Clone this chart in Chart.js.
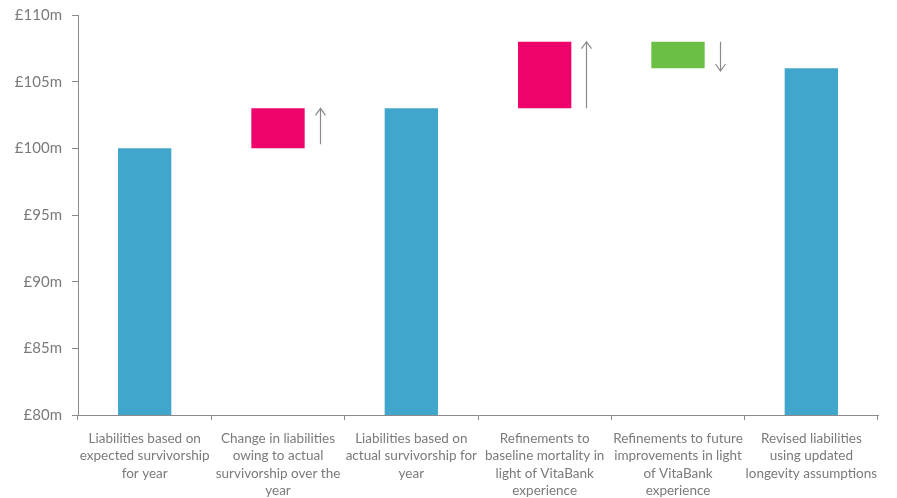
<!DOCTYPE html>
<html>
<head>
<meta charset="utf-8">
<script src="https://cdn.jsdelivr.net/npm/chart.js@4"></script>
<style>
  html, body { margin: 0; padding: 0; background: #ffffff; }
  #wrap { width: 897px; height: 498px; position: relative; }
</style>
</head>
<body>
<div id="wrap"><canvas id="c" width="897" height="498"></canvas></div>
<script>
// Waterfall of liability movements (£m)
const categories = [
  ["Liabilities based on", "expected survivorship", "for year"],
  ["Change in liabilities", "owing to actual", "survivorship over the", "year"],
  ["Liabilities based on", "actual survivorship for", "year"],
  ["Refinements to", "baseline mortality in", "light of VitaBank", "experience"],
  ["Refinements to future", "improvements in light", "of VitaBank", "experience"],
  ["Revised liabilities", "using updated", "longevity assumptions"]
];
const barStart = [80, 100, 80, 103, 106, 80];
const barEnd   = [100, 103, 103, 108, 108, 106];
const barKind  = ["total", "up", "total", "up", "down", "total"];
// Direction arrows beside the movement bars: [from, to] in £m, null where none
const arrowFrom = [null, 100.3, null, 103, 108, null];
const arrowTo   = [null, 103, null, 108, 105.8, null];
const yTicks = [80, 85, 90, 95, 100, 105, 110];

const kindColour = { total: "#41A6CB", up: "#EE036D", down: "#6CBF45" };
const axisGrey = "#8a8a8a";
const textGrey = "#7a7a7a";

const arrowPlugin = {
  id: "arrows",
  afterDatasetsDraw(chart) {
    const ctx = chart.ctx;
    const y = chart.scales.y;
    const meta = chart.getDatasetMeta(0);
    ctx.save();
    ctx.strokeStyle = axisGrey;
    ctx.lineWidth = 1.2;
    arrowFrom.forEach((from, i) => {
      if (from === null) return;
      const bar = meta.data[i];
      const x = Math.round(bar.x + bar.width / 2 + 15) + 0.5;
      const y0 = y.getPixelForValue(from);
      const y1 = y.getPixelForValue(arrowTo[i]);
      const dir = y1 < y0 ? 1 : -1;
      ctx.beginPath();
      ctx.moveTo(x, y0);
      ctx.lineTo(x, y1);
      ctx.moveTo(x - 5, y1 + dir * 7);
      ctx.lineTo(x, y1);
      ctx.lineTo(x + 5, y1 + dir * 7);
      ctx.stroke();
    });
    ctx.restore();
  }
};

new Chart(document.getElementById("c"), {
  type: "bar",
  data: {
    labels: categories,
    datasets: [{
      data: barStart.map((s, i) => [s, barEnd[i]]),
      backgroundColor: barKind.map(k => kindColour[k]),
      borderWidth: 0,
      barPercentage: 0.4,
      categoryPercentage: 1.0
    }]
  },
  options: {
    responsive: false,
    animation: false,
    layout: { padding: { top: 15, right: 19, left: 0, bottom: 0 } },
    plugins: { legend: { display: false }, tooltip: { enabled: false } },
    scales: {
      x: {
        grid: { drawOnChartArea: false, drawTicks: true, tickLength: 5, color: axisGrey, offset: true },
        border: { display: true, color: axisGrey, width: 1 },
        ticks: {
          autoSkip: false, maxRotation: 0, minRotation: 0, padding: 10,
          color: textGrey,
          font: { family: "Lato", size: 13.5, lineHeight: 1.28 }
        },
        afterFit(s) { s.height = 83; s.paddingLeft = 0; s.paddingRight = 0; }
      },
      y: {
        min: 80, max: 110,
        afterBuildTicks(s) { s.ticks = yTicks.map(v => ({ value: v })); },
        grid: { drawOnChartArea: false, drawTicks: true, tickLength: 6, color: axisGrey },
        border: { display: true, color: axisGrey, width: 1 },
        ticks: {
          padding: 10,
          color: textGrey,
          font: { family: "Lato", size: 15 },
          callback: v => "£" + v + "m"
        },
        afterFit(s) { s.width = 78; s.paddingTop = 0; s.paddingBottom = 0; }
      }
    }
  },
  plugins: [arrowPlugin]
});
</script>
</body>
</html>
